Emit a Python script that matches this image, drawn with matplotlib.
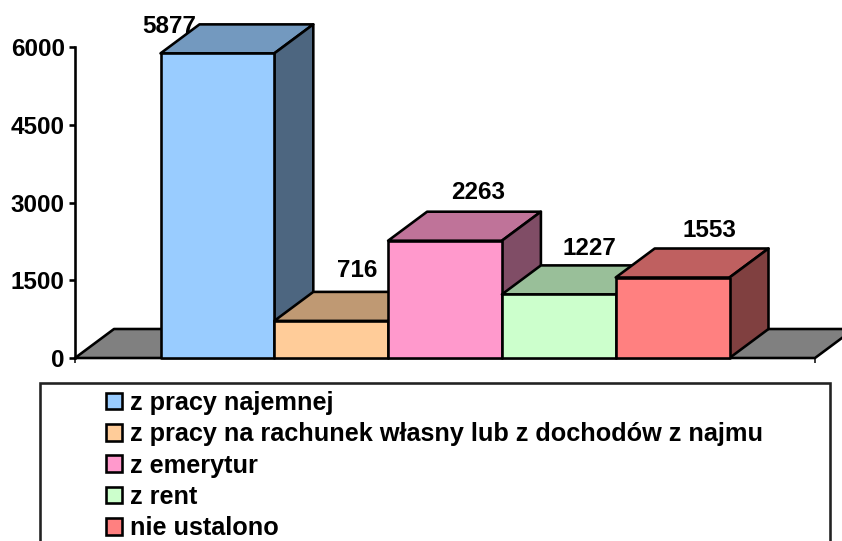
from __future__ import annotations

import matplotlib

matplotlib.use("Agg")

import matplotlib.pyplot as plt
from matplotlib.colors import to_rgb
from matplotlib.patches import Patch, Polygon, Rectangle

plt.rcParams["font.family"] = ["Liberation Sans", "DejaVu Sans"]
plt.rcParams["font.weight"] = "bold"

CATEGORIES = [
    "z pracy najemnej",
    "z pracy na rachunek własny lub z dochodów z najmu",
    "z emerytur",
    "z rent",
    "nie ustalono",
]
VALUES = [5877, 716, 2263, 1227, 1553]
COLORS = ["#99ccff", "#ffcc99", "#ff99cc", "#ccffcc", "#ff8080"]
Y_TICKS = [0, 1500, 3000, 4500, 6000]

# label placement relative to the front-top centre of each bar, in pixels
LABEL_OFFSETS_PX = [(-48, 27), (26, 50), (33, 48), (31, 46), (37, 47)]

WIDTH, HEIGHT = 842, 541
PX = 72 / 100
EDGE = 2.6 * PX
FONT_SIZE = 17.5


def shade(color: str, factor: float) -> tuple[float, float, float]:
    return tuple(c * factor for c in to_rgb(color))


fig = plt.figure(figsize=(WIDTH / 100, HEIGHT / 100), dpi=100)
ax = fig.add_axes([75 / WIDTH, (HEIGHT - 358) / HEIGHT, 740 / WIDTH, 311 / HEIGHT])

# bars are one unit wide and touch each other
x_margin = 85.5 / 113.8
ax.set_xlim(-x_margin, len(VALUES) + x_margin)
ax.set_ylim(0, 6000)
depth_x = 39 / 113.8
depth_y = 29 / 311 * 6000
x0, x1 = ax.get_xlim()


def face(points, color, zorder):
    ax.add_patch(Polygon(points, closed=True, facecolor=color, edgecolor="black",
                         linewidth=EDGE, joinstyle="round", clip_on=False, zorder=zorder))


# floor, cut off by the right edge of the picture
face([(x0, 0), (x1, 0), (x1 + depth_x, depth_y), (x0 + depth_x, depth_y)], "#808080", 2)

for i, (value, color) in enumerate(zip(VALUES, COLORS)):
    z = 3 + i
    face([(i, value), (i + 1, value), (i + 1 + depth_x, value + depth_y), (i + depth_x, value + depth_y)],
         shade(color, 0.75), z)
    face([(i + 1, 0), (i + 1 + depth_x, depth_y), (i + 1 + depth_x, value + depth_y), (i + 1, value)],
         shade(color, 0.5), z)
    face([(i, 0), (i + 1, 0), (i + 1, value), (i, value)], color, z)

for i, (value, offset) in enumerate(zip(VALUES, LABEL_OFFSETS_PX)):
    ax.annotate(str(value), xy=(i + 0.5, value), xytext=(offset[0] * PX, offset[1] * PX),
                textcoords="offset points", ha="center", va="center", fontsize=FONT_SIZE,
                fontweight="bold", annotation_clip=False, zorder=2.5)

ax.patch.set_visible(False)
for side in ("top", "right", "bottom"):
    ax.spines[side].set_visible(False)
ax.spines["left"].set_linewidth(EDGE)
ax.spines["left"].set_zorder(10)
ax.set_yticks(Y_TICKS)
ax.tick_params(axis="y", length=6 * PX, width=EDGE, labelsize=FONT_SIZE, pad=3)
ax.set_xticks([x0, x1])
ax.set_xticklabels([])
ax.tick_params(axis="x", length=5 * PX, width=1.5 * PX)

# legend frame runs past the bottom of the picture
fig.add_artist(Rectangle((40 / WIDTH, -20 / HEIGHT), 790 / WIDTH, (HEIGHT + 20 - 383) / HEIGHT,
                         transform=fig.transFigure, facecolor="white", edgecolor="#222222",
                         linewidth=EDGE))
handles = [Patch(facecolor=c, edgecolor="black", linewidth=EDGE) for c in COLORS]
fig.legend(handles, CATEGORIES, loc="upper left", bbox_to_anchor=(106 / WIDTH, (HEIGHT - 391) / HEIGHT),
           frameon=False, fontsize=18.2, borderpad=0, borderaxespad=0, handlelength=0.64,
           handleheight=0.64, handletextpad=0.3, labelspacing=0.29)

fig.savefig("out.png", dpi=100)
plt.close(fig)
